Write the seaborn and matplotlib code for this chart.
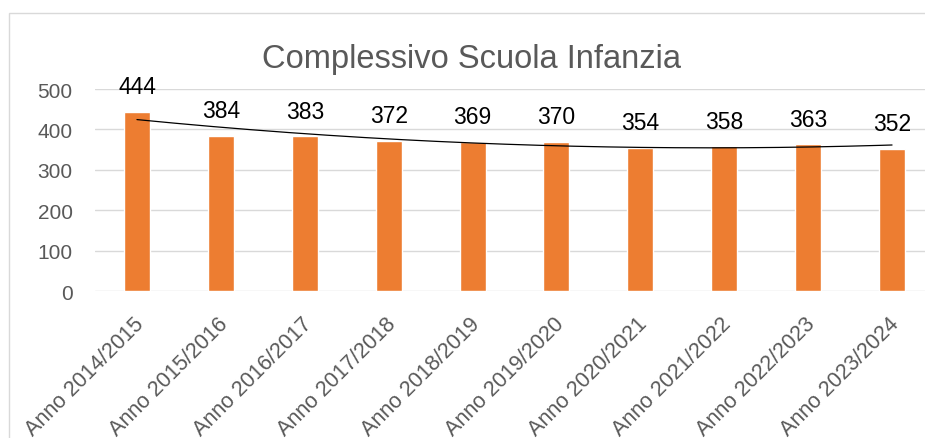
"""
Bar chart: Complessivo Scuola Infanzia, with a 2nd-order trend line
"""
import numpy as np
import pandas as pd
import matplotlib
matplotlib.use('Agg')
import matplotlib.pyplot as plt
import matplotlib.transforms as mtransforms
from matplotlib.patches import Rectangle
import seaborn as sns

# Data
anni = ['Anno 2014/2015', 'Anno 2015/2016', 'Anno 2016/2017', 'Anno 2017/2018',
        'Anno 2018/2019', 'Anno 2019/2020', 'Anno 2020/2021', 'Anno 2021/2022',
        'Anno 2022/2023', 'Anno 2023/2024']
iscritti = [444, 384, 383, 372, 369, 370, 354, 358, 363, 352]
y_ticks = [0, 100, 200, 300, 400, 500]

ORANGE = '#ED7D31'
GRID = '#D9D9D9'
TEXT_GRAY = '#595959'

sns.set_style('white')
plt.rcParams['font.family'] = ['Liberation Sans', 'DejaVu Sans']

df = pd.DataFrame({'anno': anni, 'iscritti': iscritti})

fig = plt.figure(figsize=(9.25, 4.39), dpi=100)
W, H = 925, 439

# Chart border (cropped on right and bottom like the source)
fig.patches.append(Rectangle((9 / W, -0.1), 1.2, 1 - 14 / H + 0.1,
                             transform=fig.transFigure, fill=False,
                             edgecolor=GRID, linewidth=1.0))

ax = fig.add_axes([95 / W, 1 - 292 / H, 839 / W, 202 / H])

sns.barplot(data=df, x='anno', y='iscritti', color=ORANGE, saturation=1,
            width=0.31, ax=ax, zorder=3)

# Polynomial (order 2) trend line
xs = np.arange(len(iscritti))
coef = np.polyfit(xs, iscritti, 2)
xf = np.linspace(0, len(iscritti) - 1, 200)
ax.plot(xf, np.polyval(coef, xf), color='black', linewidth=0.9, zorder=4)

# Value labels
for i, v in enumerate(iscritti):
    ax.annotate(str(v), (i, v), xytext=(0, 13.5), textcoords='offset points',
                ha='center', va='baseline', fontsize=16.5, color='black')

ax.set_xlim(-0.5, len(anni) - 0.5)
ax.set_ylim(0, 500)
ax.set_yticks(y_ticks)
ax.yaxis.grid(True, color=GRID, linewidth=1.0, zorder=0)
ax.set_axisbelow(True)
for s in ax.spines.values():
    s.set_visible(False)
ax.set_xlabel('')
ax.set_ylabel('')
ax.tick_params(axis='y', length=0, pad=16, labelsize=15, labelcolor=TEXT_GRAY)
ax.tick_params(axis='x', length=0, pad=21, labelsize=15.5, labelcolor=TEXT_GRAY)

offset = mtransforms.ScaledTranslation(4 / 100, 0, fig.dpi_scale_trans)
for lab in ax.get_xticklabels():
    lab.set_rotation(45)
    lab.set_ha('right')
    lab.set_va('center')
    lab.set_rotation_mode('anchor')
    lab.set_transform(lab.get_transform() + offset)

fig.text(472 / W, 1 - 68 / H, 'Complessivo Scuola Infanzia', ha='center',
         va='baseline', fontsize=23.5, color=TEXT_GRAY)

fig.savefig('out.png', dpi=100)
plt.close(fig)
